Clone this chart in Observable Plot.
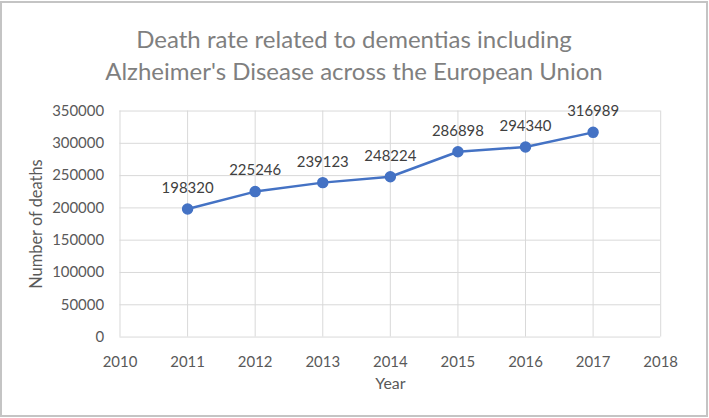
<!DOCTYPE html>
<html>
<head>
<meta charset="utf-8">
<script src="https://cdn.jsdelivr.net/npm/d3@7"></script>
<script src="https://cdn.jsdelivr.net/npm/@observablehq/plot@0.6"></script>
<style>
  html, body { margin: 0; padding: 0; background: #fff; }
  #frame {
    position: relative; box-sizing: border-box;
    width: 708px; height: 416px; margin: 1px 0 0 0;
    border: 2px solid #c4c4c4; background: #fff; overflow: hidden;
  }
  #title {
    position: absolute; left: 0; width: 100%; top: 20px;
    text-align: center; font-family: Lato, "Open Sans", sans-serif;
    font-size: 24px; line-height: 32px; color: #7f7f7f;
  }
  #chart { position: absolute; left: -2px; top: -3px; }
</style>
</head>
<body>
<div id="frame">
  <div id="chart"></div>
  <div id="title">Death rate related to dementias including<br>Alzheimer's Disease across the European Union</div>
</div>
<script>
const years = [2011, 2012, 2013, 2014, 2015, 2016, 2017];
const deaths = [198320, 225246, 239123, 248224, 286898, 294340, 316989];
const xTicks = [2010, 2011, 2012, 2013, 2014, 2015, 2016, 2017, 2018];
const yTicks = [0, 50000, 100000, 150000, 200000, 250000, 300000, 350000];

const data = years.map((y, i) => ({year: y, deaths: deaths[i]}));
const blue = "#4472c4";
const grey = "#595959";

const chart = Plot.plot({
  width: 709,
  height: 418,
  marginLeft: 120,
  marginRight: 46,
  marginTop: 111,
  marginBottom: 80,
  style: {fontFamily: "Lato, 'Open Sans', sans-serif", fontSize: "15px", color: grey, background: "transparent"},
  x: {domain: [2010, 2018], ticks: xTicks, tickFormat: d => String(d), label: null},
  y: {domain: [0, 350000], ticks: yTicks, tickFormat: d => String(d), label: null},
  marks: [
    Plot.gridX(xTicks, {stroke: "#d9d9d9", strokeOpacity: 1}),
    Plot.gridY(yTicks, {stroke: "#d9d9d9", strokeOpacity: 1}),
    Plot.axisX({ticks: xTicks, tickFormat: d => String(d), tickSize: 0, tickPadding: 19, fontSize: 15, fill: grey, label: null}),
    Plot.axisY({ticks: yTicks, tickFormat: d => String(d), tickSize: 0, tickPadding: 16, fontSize: 15, fill: grey, label: null}),
    Plot.text(["Year"], {frameAnchor: "bottom", textAnchor: "middle", lineAnchor: "middle", dy: 47, fontSize: 16, fill: grey}),
    Plot.text(["Number of deaths"], {frameAnchor: "left", textAnchor: "middle", lineAnchor: "middle", dx: -84, rotate: -90, fontSize: 16.5, fill: grey}),
    Plot.line(data, {x: "year", y: "deaths", stroke: blue, strokeWidth: 2.5}),
    Plot.dot(data, {x: "year", y: "deaths", r: 5, fill: blue, stroke: blue}),
    Plot.text(data, {x: "year", y: "deaths", text: d => String(d.deaths), dy: -21, fontSize: 15, fill: "#404040"})
  ]
});
document.getElementById("chart").appendChild(chart);
</script>
</body>
</html>
